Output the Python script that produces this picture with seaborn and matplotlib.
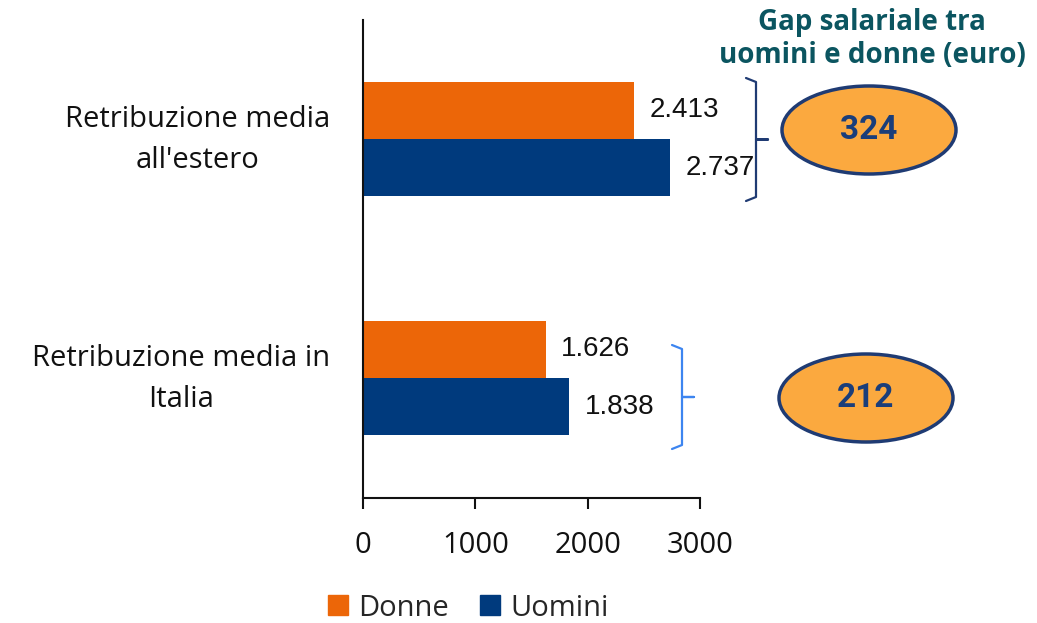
import pandas as pd
import matplotlib.pyplot as plt
import seaborn as sns
from matplotlib.patches import Ellipse
from matplotlib.lines import Line2D
from matplotlib.transforms import ScaledTranslation

# data
categorie = ["Retribuzione media\nall'estero", "Retribuzione media in\nItalia"]
donne = [2413, 1626]
uomini = [2737, 1838]
serie = ["Donne", "Uomini"]
xticks = [0, 1000, 2000, 3000]
titolo_gap = "Gap salariale tra\nuomini e donne (euro)"

ARANCIO = "#EC6608"
BLU = "#003A7D"
W, H = 1037, 623

df = pd.DataFrame({
    "categoria": categorie * 2,
    "sesso": [serie[0]] * len(categorie) + [serie[1]] * len(categorie),
    "valore": donne + uomini,
})

sns.set_theme(style="white")
plt.rcParams["font.family"] = ["Open Sans", "DejaVu Sans"]

fig = plt.figure(figsize=(W / 100, H / 100), dpi=100)
ax = fig.add_axes([363 / W, 1 - 497.5 / H, (700 - 363) / W, (497.5 - 19.5) / H])

sns.barplot(data=df, y="categoria", x="valore", hue="sesso", orient="h",
            palette=[ARANCIO, BLU], width=0.48, gap=0, saturation=1,
            edgecolor="none", ax=ax)
ax.get_legend().remove()

for cont in ax.containers:
    labels = [f"{int(b.get_width()):,}".replace(",", ".") for b in cont]
    ax.bar_label(cont, labels=labels, padding=11, fontsize=20,
                 family="Liberation Sans", color="#111111")

ax.set_xlim(0, 3000)
ax.set_ylim(1.5, -0.5)
ax.set_xticks(xticks)
ax.set_xticklabels([str(t) for t in xticks], fontsize=21, color="#111111")
ax.set_xlabel("")
ax.set_ylabel("")
for s in ["top", "right"]:
    ax.spines[s].set_visible(False)
for s in ["left", "bottom"]:
    ax.spines[s].set_color("#111111")
    ax.spines[s].set_linewidth(1.5)
ax.tick_params(axis="x", length=8, width=1.5, color="#111111", pad=16, direction="out", bottom=True)

# category labels drawn as text, centred on each category, right-aligned at the axis
ax.set_yticks(range(len(categorie)))
ax.set_yticklabels([])
ax.tick_params(axis="y", length=0)
shift = ScaledTranslation(-33 / 100, -1 / 100, fig.dpi_scale_trans)
for i, cat in enumerate(categorie):
    ax.text(0, i, cat, transform=ax.get_yaxis_transform() + shift, ha="right", va="center",
            multialignment="center", linespacing=1.58, fontsize=21, color="#111111")

# legend
handles = [Line2D([], [], marker="s", linestyle="", markersize=15, color=c) for c in [ARANCIO, BLU]]
fig.legend(handles, serie, loc="center", bbox_to_anchor=(466 / W, 1 - 608 / H),
           ncol=2, frameon=False, fontsize=21, handletextpad=0.2, columnspacing=0.9,
           handlelength=1.0)

# gap title
fig.text(872 / W, 1 - 39 / H, titolo_gap, ha="center", va="center", fontsize=20,
         fontweight="bold", color="#0B5560", linespacing=1.15)


def parentesi(x, top, bottom, colore):
    mid = (top + bottom) / 2
    px = [x - 10, x, x, x + 12, x, x, x - 10]
    py = [top, top + 4, mid, mid, mid, bottom - 4, bottom]
    fig.add_artist(Line2D([p / W for p in px], [1 - p / H for p in py],
                          transform=fig.transFigure, color=colore, lw=1.6))


parentesi(756, 78, 201, "#1F3B73")
parentesi(682, 345, 449, "#3D85F0")

# gap ellipses
gap = [u - d for u, d in zip(uomini, donne)]
centri = [(869, 130), (866, 398)]
for (cx, cy), g in zip(centri, gap):
    fig.add_artist(Ellipse((cx / W, 1 - cy / H), 174 / W, 88 / H, transform=fig.transFigure,
                           facecolor="#FBA93F", edgecolor="#1F3B73", lw=2.5))
    fig.text(cx / W, 1 - cy / H, str(g), ha="center", va="center", fontsize=24,
             fontweight="bold", family="Roboto", color="#1A3E7A")

fig.savefig("out.png", dpi=100)
